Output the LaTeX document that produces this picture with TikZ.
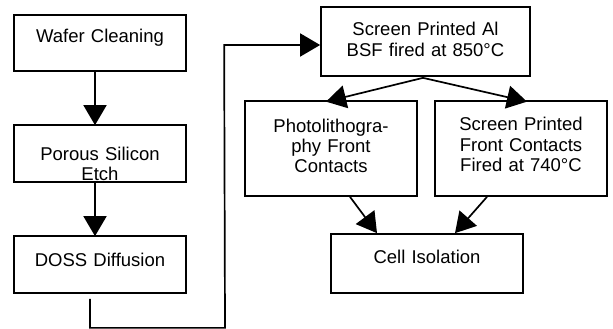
\documentclass[tikz,border=0pt]{standalone}
\usepackage{fontspec}
\setmainfont{Liberation Sans}
\usetikzlibrary{arrows.meta,calc}
\tikzset{
  box/.style={draw, line width=1.7pt, inner sep=0pt, align=center,
    font=\fontsize{18.5}{20.5}\selectfont},
  arr/.style={line width=1.7pt, -{Triangle[length=20pt,width=23pt]}},
}
\begin{document}
\begin{tikzpicture}[x=1pt,y=-1pt]
\useasboundingbox (0,0) rectangle (613,329);
\node[box, minimum width=172, minimum height=56, text width=160, text height=0pt, text depth=0pt] (wafer) at (100,43) {Wafer Cleaning};
\node[box, minimum width=172, minimum height=57, text width=160, text height=13pt, text depth=0pt] (porous) at (100,153.5) {Porous Silicon\\Etch};
\node[box, minimum width=172, minimum height=57, text width=160, text height=4.4pt, text depth=0pt] (doss) at (100,264.5) {DOSS Diffusion};
\node[box, minimum width=209, minimum height=69, text width=195, text height=0pt, text depth=11pt] (al) at (425.5,41.5) {Screen Printed Al\\BSF fired at 850°C};
\node[box, minimum width=172, minimum height=95, text width=160, text height=0pt, text depth=33pt, font=\fontsize{18.5}{20}\selectfont] (photo) at (331,148.5) {Photolithogra-\\phy Front\\Contacts};
\node[box, minimum width=172, minimum height=95, text width=160, text height=0pt, text depth=36pt] (front) at (521,148.5) {Screen Printed\\Front Contacts\\Fired at 740°C};
\node[box, minimum width=192, minimum height=59, text width=180, text height=0pt, text depth=1pt] (cell) at (427,263.5) {Cell Isolation};

\draw[arr] ($(wafer.south)+(-5,0)$) -- ($(porous.north)+(-5,1)$);
\draw[arr] ($(porous.south)+(-5,0)$) -- ($(doss.north)+(-5,1)$);
\draw[arr] ($(doss.south)+(-10,5)$) -- ($(doss.south)+(-10,34)$) -- ($(doss.south)+(125,34)$) -- ($(al.west)+(-96,3.5)$) -- ($(al.west)+(0,3.5)$);
\draw[arr] ($(al.south)+(-2.5,1)$) -- ($(photo.north)+(-5,1.5)$);
\draw[arr] ($(al.south)+(-2.5,1)$) -- ($(front.north)+(6,1.5)$);
\draw[arr] ($(photo.south)+(19,0)$) -- ($(cell.north)+(-50,0)$);
\draw[arr] ($(front.south)+(-34,0)$) -- ($(cell.north)+(28,0)$);
\end{tikzpicture}
\end{document}
